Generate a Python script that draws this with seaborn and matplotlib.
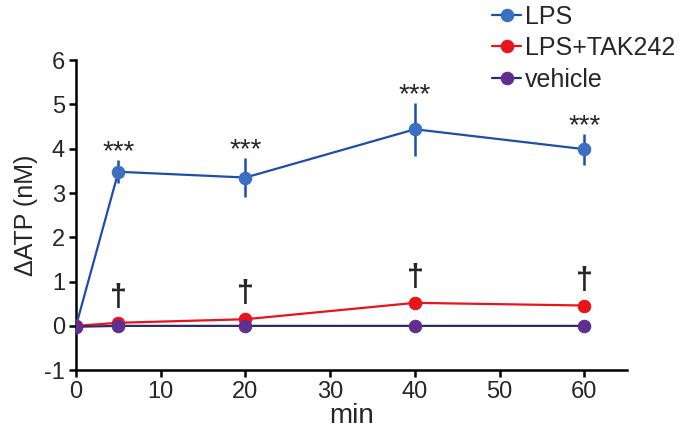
import pandas as pd
import seaborn as sns
import matplotlib.pyplot as plt

# time points (min)
minutes = [0, 5, 20, 40, 60]

# mean ATP change (nM)
lps = [0.0, 3.48, 3.35, 4.44, 3.99]
lps_err = [0.0, 0.26, 0.43, 0.6, 0.35]
lps_tak = [0.0, 0.07, 0.15, 0.52, 0.46]
vehicle = [-0.02, 0.0, 0.0, 0.0, 0.0]

groups = ["LPS", "LPS+TAK242", "vehicle"]
marker_colors = ["#3b6fc1", "#e8141c", "#5e2e91"]
line_colors = ["#1f4ea6", "#e8141c", "#2b2a6b"]

df = pd.DataFrame({
    "min": minutes * 3,
    "ATP": lps + lps_tak + vehicle,
    "group": [g for g in groups for _ in minutes],
})

sns.set_style("ticks")
plt.rcParams["font.family"] = ["Liberation Sans", "DejaVu Sans"]
plt.rcParams["axes.unicode_minus"] = False

fig = plt.figure(figsize=(6.85, 4.36), dpi=100)
ax = fig.add_axes([0.111, 0.151, 0.804, 0.711])

# error bars for LPS
ax.errorbar(minutes, lps, yerr=lps_err, fmt="none", ecolor=line_colors[0],
            elinewidth=1.8, capsize=0, zorder=2)

for g, mc, lc in zip(groups, marker_colors, line_colors):
    sub = df[df["group"] == g]
    sns.lineplot(data=sub, x="min", y="ATP", ax=ax, color=lc, linewidth=1.6,
                 marker="o", markersize=9, markerfacecolor=mc, markeredgecolor=mc,
                 label=g, zorder=3 if g != "vehicle" else 4)

# significance marks
for x, y, e in zip(minutes[1:], lps[1:], lps_err[1:]):
    ax.text(x, y + e + 0.02, "***", ha="center", va="baseline", fontsize=20)
for x, y in zip(minutes[1:], lps_tak[1:]):
    ax.text(x, y + 0.22, "\u2020", ha="center", va="bottom", fontsize=22,
            fontweight="bold")

ax.set_xlim(0, 65)
ax.set_ylim(-1, 6)
ax.set_xticks([0, 10, 20, 30, 40, 50, 60])
ax.set_yticks(range(-1, 7))
ax.tick_params(labelsize=17, width=1.8, length=5, color="black", pad=3)
for s in ["left", "bottom"]:
    ax.spines[s].set_linewidth(1.8)
    ax.spines[s].set_color("black")
sns.despine(ax=ax)
ax.set_xlabel("min", fontsize=20, labelpad=0)
ax.set_ylabel("\u0394ATP (nM)", fontsize=18, labelpad=4)

handles, labels = ax.get_legend_handles_labels()
ax.get_legend().remove()
fig.legend(handles, labels, loc="upper left", bbox_to_anchor=(0.715, 0.995),
           frameon=False, fontsize=18, handlelength=1.15, handletextpad=0.15,
           labelspacing=0.3, borderpad=0.1, borderaxespad=0)

fig.savefig("out.png", dpi=100)
plt.close()
